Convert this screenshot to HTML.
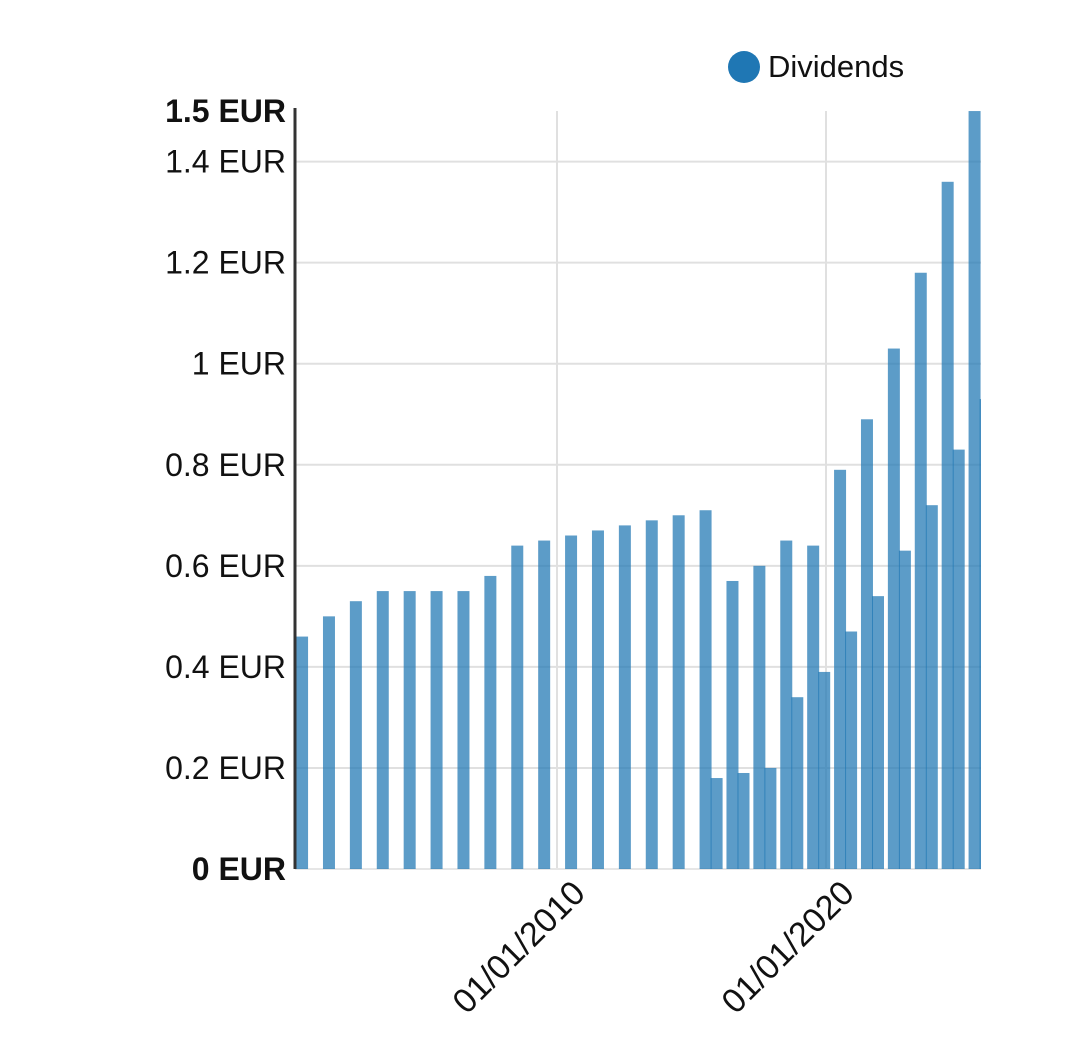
<!DOCTYPE html>
<html><head><meta charset="utf-8"><style>
html,body{margin:0;padding:0;background:#fff;}
svg{display:block;font-family:"Liberation Sans",sans-serif;}
</style></head><body>
<svg id="chart" width="1080" height="1048" viewBox="0 0 1080 1048" xmlns="http://www.w3.org/2000/svg">
<g id="grid"></g>
<defs><clipPath id="plotclip"><rect x="295" y="100" width="686" height="770"/></clipPath></defs>
<g id="bars" clip-path="url(#plotclip)"></g>
<g id="yaxis"></g>
<g id="xaxis"></g>
<g>
<circle cx="744" cy="67" r="16" fill="#1f77b4"/>
<text x="768" y="77" font-size="31" fill="#111">Dividends</text>
</g>
</svg>
<script>
const annualYears=[2000,2001,2002,2003,2004,2005,2006,2007,2008,2009,2010,2011,2012,2013,2014,2015,2016,2017,2018,2019,2020,2021,2022,2023,2024,2025];
const annualValues=[0.46,0.50,0.53,0.55,0.55,0.55,0.55,0.58,0.64,0.65,0.66,0.67,0.68,0.69,0.70,0.71,0.57,0.60,0.65,0.64,0.79,0.89,1.03,1.18,1.36,1.50];
const interimYears=[2015,2016,2017,2018,2019,2020,2021,2022,2023,2024,2025];
const interimValues=[0.18,0.19,0.20,0.34,0.39,0.47,0.54,0.63,0.72,0.83,0.93];
const yTicks=[0,0.2,0.4,0.6,0.8,1,1.2,1.4,1.5];
const yTickLabels=["0 EUR","0.2 EUR","0.4 EUR","0.6 EUR","0.8 EUR","1 EUR","1.2 EUR","1.4 EUR","1.5 EUR"];
const xTicks=[2010,2020];
const xTickLabels=["01/01/2010","01/01/2020"];

const NS="http://www.w3.org/2000/svg";
const X0=295,X1=981,Y0=869;
const xs=y=>557+(y-2010)*26.9;
const ys=v=>Y0-v*505.3;
function mk(tag,attrs,parent){const e=document.createElementNS(NS,tag);for(const k in attrs)e.setAttribute(k,attrs[k]);parent.appendChild(e);return e;}
const grid=document.getElementById('grid'),bars=document.getElementById('bars'),yaxis=document.getElementById('yaxis'),xaxis=document.getElementById('xaxis');
yTicks.forEach((t,i)=>{
  if(t>0&&t<1.5){const l=mk('line',{x1:X0,x2:X1,y1:ys(t),y2:ys(t),stroke:'#e0e0e0','stroke-width':2},grid);
  
  }
  const bold=(t===0||t===1.5);
  const tx=mk('text',{x:286,y:ys(t)+11,'text-anchor':'end','font-size':32,'font-weight':bold?'bold':'normal',fill:'#111'},yaxis);
  tx.textContent=yTickLabels[i];
  
  
});
xTicks.forEach((t,i)=>{
  const l=mk('line',{x1:xs(t),x2:xs(t),y1:ys(1.5),y2:Y0,stroke:'#e0e0e0','stroke-width':2},grid);
  
  
  const tx=mk('text',{x:0,y:0,'text-anchor':'end','font-size':34,fill:'#111',transform:`translate(${xs(t)+30},${Y0+26}) rotate(-45)`},xaxis);
  tx.textContent=xTickLabels[i];
  
  
});
const base=mk('line',{x1:X0,x2:X1,y1:Y0,y2:Y0,stroke:'#e6e6e6','stroke-width':2},grid);


annualYears.forEach((y,i)=>{
  const v=annualValues[i];
  const r=mk('rect',{x:xs(y+0.3),y:ys(v),width:12,height:Y0-ys(v),fill:'#1f77b4','fill-opacity':0.73},bars);
  
  
});
interimYears.forEach((y,i)=>{
  const v=interimValues[i];
  const r=mk('rect',{x:xs(y+0.71),y:ys(v),width:12,height:Y0-ys(v),fill:'#1f77b4','fill-opacity':0.73},bars);
  
  
});
const ax=mk('line',{x1:X0,x2:X0,y1:108,y2:Y0,stroke:'#333','stroke-width':3},yaxis);


</script>
</body></html>
